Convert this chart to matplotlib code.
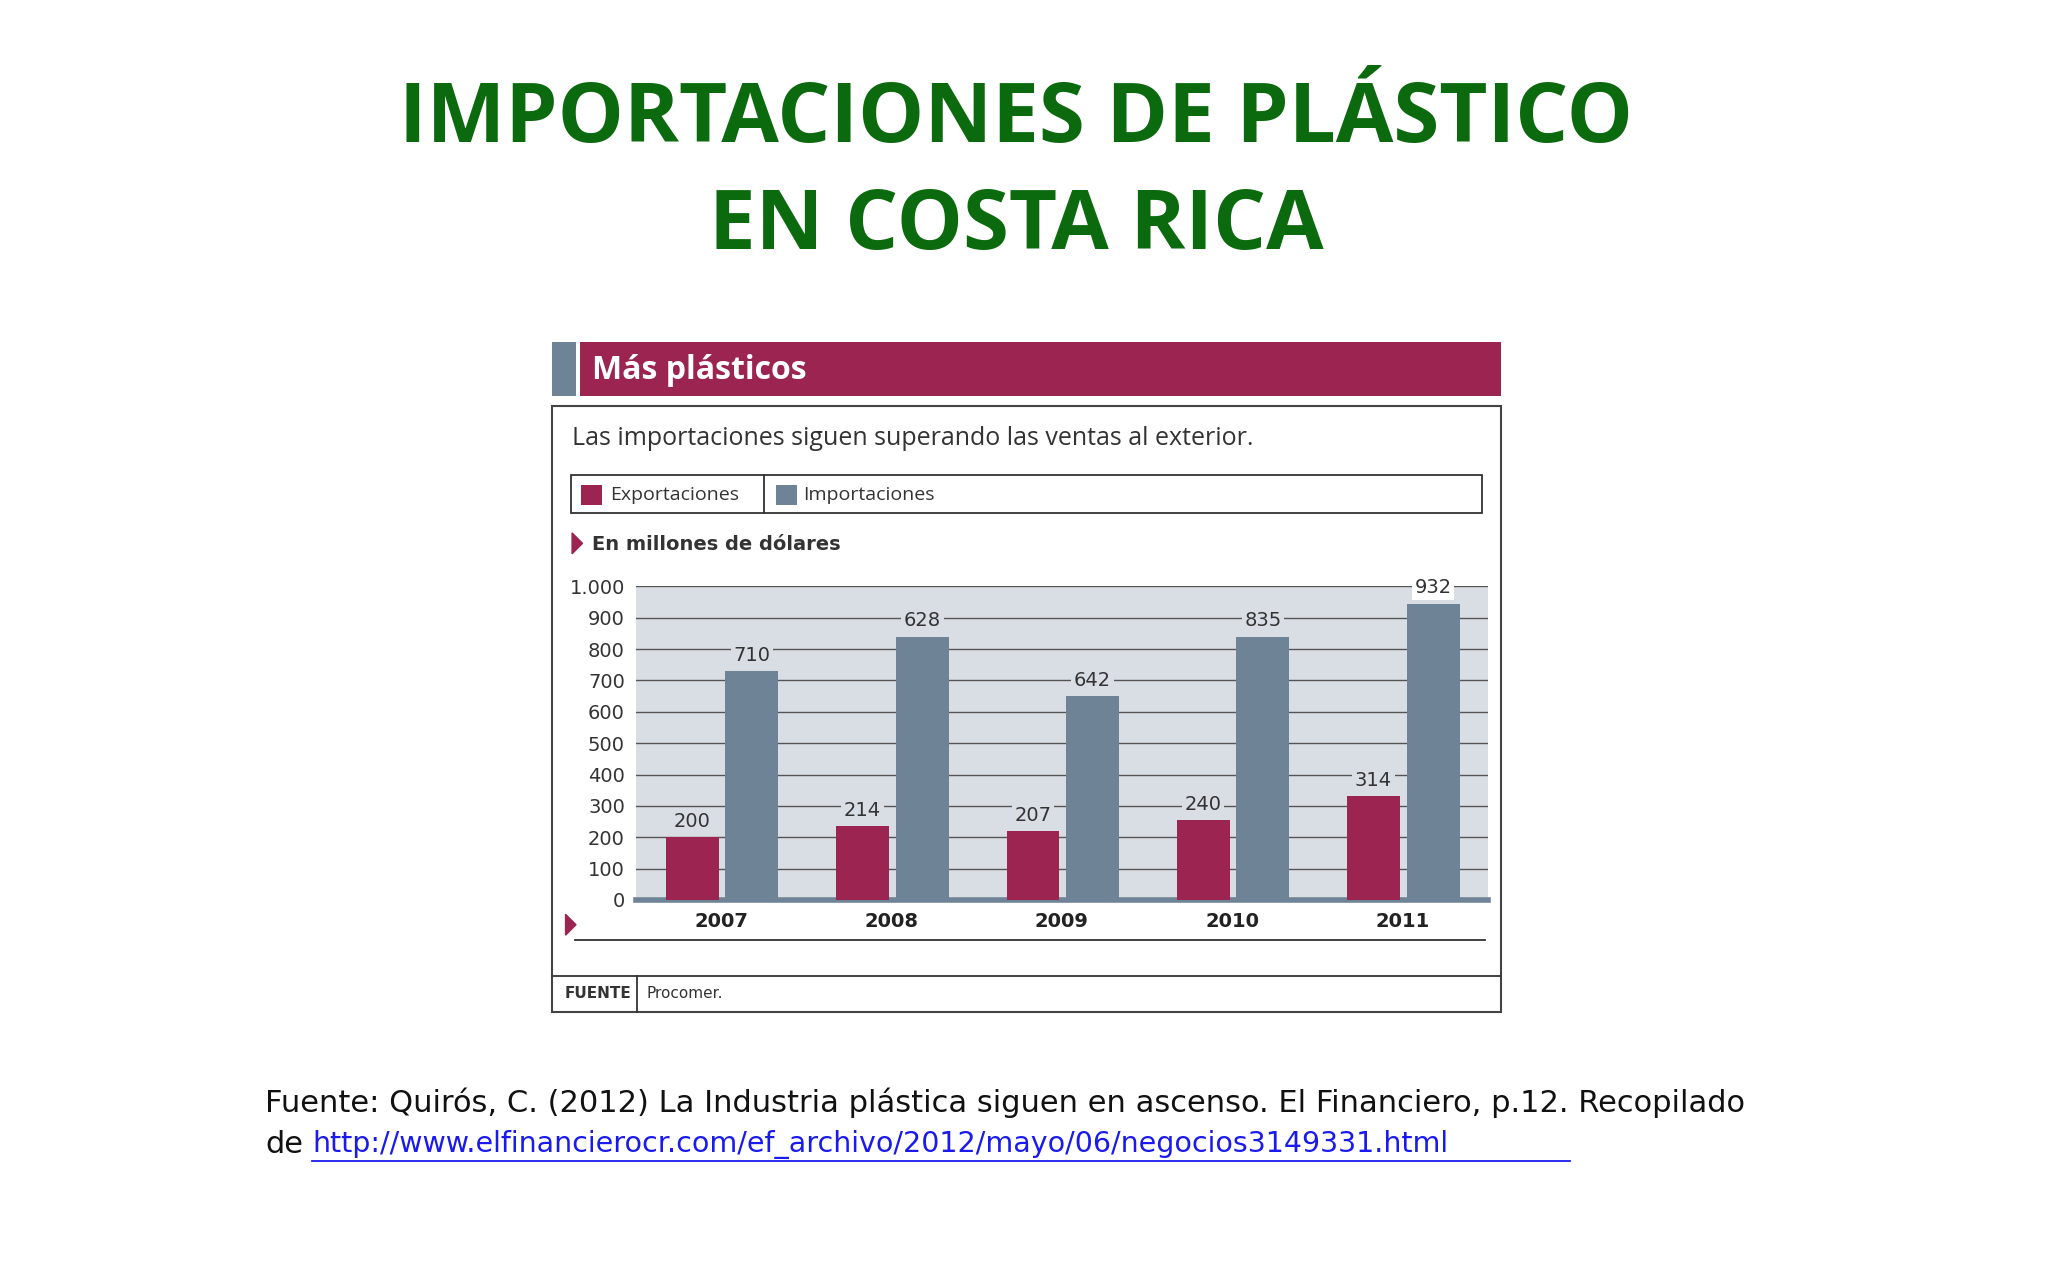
import matplotlib.pyplot as plt
from matplotlib.patches import Rectangle, Polygon
from matplotlib.lines import Line2D

years = ['2007', '2008', '2009', '2010', '2011']
export_labels = [200, 214, 207, 240, 314]
import_labels = [710, 628, 642, 835, 932]
# bar heights as drawn in the original graphic
export_heights = [200, 235, 220, 255, 330]
import_heights = [730, 840, 650, 840, 945]
yticks = [0, 100, 200, 300, 400, 500, 600, 700, 800, 900, 1000]
ytick_labels = ['0', '100', '200', '300', '400', '500', '600', '700', '800', '900', '1.000']

W, H = 1568.0, 980.0
def fx(x): return x / W
def fy(y): return 1 - y / H

maroon = '#9b2450'
slate = '#6f8396'
green = '#0b6a0d'

fig = plt.figure(figsize=(20.48, 12.8), dpi=100)

fig.text(fx(778), fy(92), 'IMPORTACIONES DE PLÁSTICO', ha='center', va='center',
         fontsize=60, fontweight='bold', color=green, family='Open Sans')
fig.text(fx(778), fy(174), 'EN COSTA RICA', ha='center', va='center',
         fontsize=60, fontweight='bold', color=green, family='Open Sans')

def rect(x0, y0, x1, y1, **kw):
    fig.add_artist(Rectangle((fx(x0), fy(y1)), fx(x1) - fx(x0), fy(y0) - fy(y1),
                             transform=fig.transFigure, **kw))

def line(x0, y0, x1, y1, **kw):
    fig.add_artist(Line2D([fx(x0), fx(x1)], [fy(y0), fy(y1)], transform=fig.transFigure, **kw))

# header
rect(423, 262, 441, 303, color=slate, lw=0)
rect(444, 262, 1149, 303, color=maroon, lw=0)
fig.text(fx(453), fy(284), 'Más plásticos', color='white', fontsize=23, fontweight='bold',
         va='center', family='Open Sans')
rect(423, 311, 1149, 775, fill=False, ec='#444444', lw=1.5)
fig.text(fx(438), fy(336), 'Las importaciones siguen superando las ventas al exterior.',
         fontsize=18, va='center', color='#333333', family='Open Sans')

# legend
rect(437, 364, 1135, 393, fill=False, ec='#333333', lw=1.3)
line(585, 364, 585, 393, color='#333333', lw=1.3)
rect(445, 371, 461, 387, color=maroon, lw=0)
fig.text(fx(467), fy(379), 'Exportaciones', fontsize=14, va='center', color='#333333',
         family='Open Sans')
rect(594, 371, 610, 387, color=slate, lw=0)
fig.text(fx(615), fy(379), 'Importaciones', fontsize=14, va='center', color='#333333',
         family='Open Sans')

fig.add_artist(Polygon([[fx(438), fy(408)], [fx(438), fy(424)], [fx(446), fy(416)]],
                       closed=True, color=maroon, transform=fig.transFigure))
fig.text(fx(453), fy(417), 'En millones de dólares', fontsize=14, fontweight='bold',
         va='center', color='#333333')

# chart
ax = fig.add_axes([fx(487), fy(689), fx(1139) - fx(487), fy(449) - fy(689)])
ax.set_facecolor('#d9dde4')
ax.set_xlim(-0.5, 4.5)
ax.set_ylim(0, 1000)
for t in yticks[1:]:
    ax.axhline(t, color='#555555', lw=1, zorder=1)
xs = list(range(len(years)))
ax.bar([x - 0.17 for x in xs], export_heights, 0.31, color=maroon, zorder=3)
ax.bar([x + 0.18 for x in xs], import_heights, 0.31, color=slate, zorder=3)
for x, h, v in zip(xs, export_heights, export_labels):
    ax.text(x - 0.17, h + 20, str(v), ha='center', va='bottom', fontsize=14, color='#333333',
            zorder=4, bbox=dict(fc='#d9dde4', ec='none', pad=2))
for x, h, v in zip(xs, import_heights, import_labels):
    ax.text(x + 0.18, h + 20, str(v), ha='center', va='bottom', fontsize=14, color='#333333',
            zorder=4, clip_on=False, bbox=dict(fc='#d9dde4' if h < 930 else 'white', ec='none', pad=2))
ax.set_yticks(yticks)
ax.set_yticklabels(ytick_labels, fontsize=14, color='#333333')
ax.set_xticks(xs)
ax.set_xticklabels(years, fontsize=14, fontweight='bold', color='#222222')
ax.tick_params(axis='y', length=0, pad=8)
ax.tick_params(axis='x', length=0, pad=9)
for s in ['top', 'right', 'left']:
    ax.spines[s].set_visible(False)
ax.spines['bottom'].set_color(slate)
ax.spines['bottom'].set_linewidth(4)

fig.add_artist(Polygon([[fx(433), fy(700)], [fx(433), fy(716)], [fx(441), fy(708)]],
                       closed=True, color=maroon, transform=fig.transFigure))
line(440, 720, 1137, 720, color='#333333', lw=1.3)
line(423, 747, 1149, 747, color='#333333', lw=1.3)
line(488, 747, 488, 775, color='#333333', lw=1.3)
fig.text(fx(432), fy(761), 'FUENTE', fontsize=11, fontweight='bold', va='center', color='#333333')
fig.text(fx(495), fy(761), 'Procomer.', fontsize=11, va='center', color='#333333')

# source
fig.text(fx(203), fy(844), 'Fuente: Quirós, C. (2012) La Industria plástica siguen en ascenso. '
         'El Financiero, p.12. Recopilado', fontsize=22, va='center', color='#111111')
fig.text(fx(203), fy(876), 'de', fontsize=22, va='center', color='#111111')
fig.text(fx(239), fy(876), 'http://www.elfinancierocr.com/ef_archivo/2012/mayo/06/negocios3149331.html',
         fontsize=20.5, va='center', color='#1a1aee')
line(239, 889, 1202, 889, color='#1a1aee', lw=1.3)

fig.savefig('out.png', dpi=100, facecolor='white')
